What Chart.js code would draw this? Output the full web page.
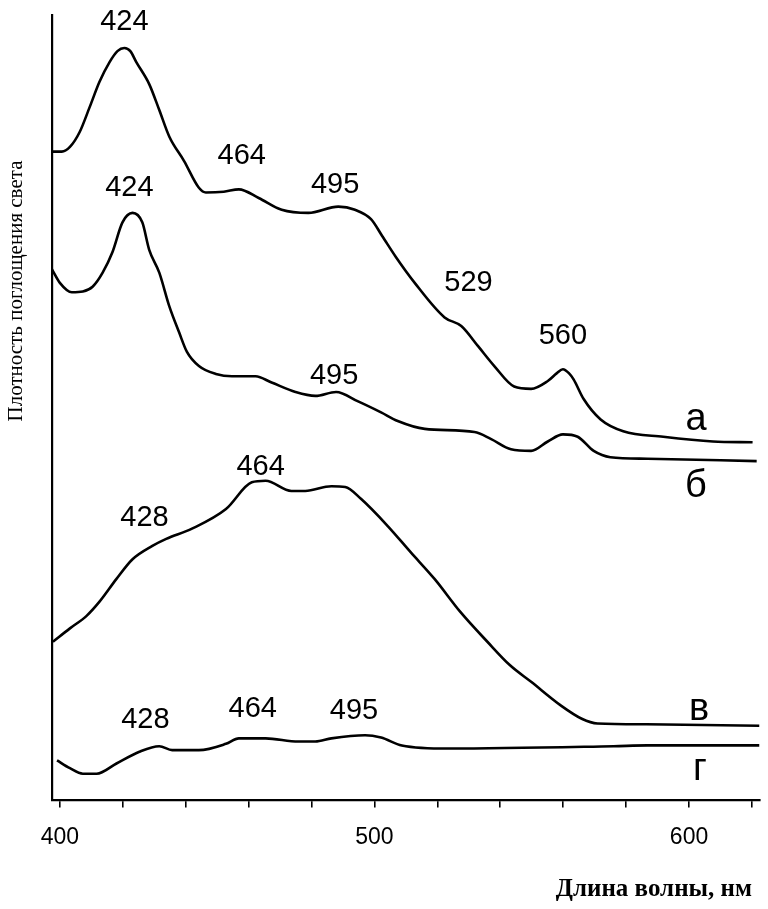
<!DOCTYPE html>
<html>
<head>
<meta charset="utf-8">
<script src="https://cdn.jsdelivr.net/npm/chart.js@4/dist/chart.umd.min.js"></script>
<style>
  html, body { margin: 0; padding: 0; background: #fff; }
  #wrap { width: 768px; height: 909px; position: relative; }
</style>
</head>
<body>
<div id="wrap"><canvas id="spectra"></canvas></div>
<script>
// wavelength, nm / absorbance (arbitrary units, 0..100)
var waveA = [397.8, 400.6, 403.2, 406.3, 409.5, 412.6, 415.8, 418.3, 420.5, 422.4, 424.3, 428.4, 431.6, 434.8, 439.5, 444.2, 446.4, 452.1, 456.9, 463.2, 470.5, 479.0, 488.5, 493.8, 498.9, 502.4, 506.8, 512.8, 522.3, 527.6, 533.0, 538.1, 544.4, 549.8, 555.1, 558.0, 559.9, 561.8, 563.3, 566.5, 571.9, 579.1, 591.8, 607.6, 620.2];
var valA  = [82.6, 82.6, 83.2, 85.1, 88.3, 91.5, 94.0, 95.4, 95.8, 95.4, 94.0, 91.2, 87.9, 84.5, 81.4, 78.0, 77.4, 77.5, 77.8, 76.7, 75.2, 74.8, 75.6, 75.2, 74.0, 71.9, 69.2, 65.9, 61.5, 60.4, 57.8, 55.3, 52.7, 52.4, 53.4, 54.4, 54.9, 54.4, 53.6, 51.1, 48.5, 47.0, 46.3, 45.7, 45.6];

var waveB = [397.5, 400.0, 403.8, 407.3, 410.4, 413.6, 416.7, 419.9, 423.1, 426.2, 428.4, 431.6, 434.8, 437.9, 440.4, 444.2, 449.6, 454.7, 462.2, 467.3, 474.9, 481.2, 487.8, 494.8, 502.1, 507.4, 516.0, 531.8, 537.1, 543.4, 549.8, 555.1, 559.9, 564.6, 569.7, 575.0, 586.7, 621.5];
var valB  = [67.6, 65.9, 64.7, 64.8, 65.4, 67.2, 69.8, 73.6, 74.8, 73.6, 70.1, 67.2, 62.9, 59.6, 57.1, 55.3, 54.3, 54.0, 54.0, 53.2, 52.0, 51.5, 52.0, 50.8, 49.4, 48.3, 47.3, 46.9, 46.0, 44.7, 44.5, 45.7, 46.6, 46.3, 44.5, 43.7, 43.5, 43.2];

var waveV = [397.8, 403.2, 408.5, 412.6, 418.0, 423.1, 429.4, 433.8, 442.0, 452.8, 461.0, 465.4, 473.6, 478.0, 486.3, 490.7, 495.7, 504.3, 511.5, 519.1, 527.3, 535.9, 543.1, 549.8, 559.2, 565.9, 570.9, 586.4, 622.4];
var valV  = [20.2, 21.9, 23.5, 25.3, 28.2, 30.7, 32.4, 33.3, 34.6, 37.1, 40.5, 40.7, 39.4, 39.4, 40.0, 39.9, 38.4, 34.9, 31.6, 28.2, 24.0, 20.2, 17.2, 15.1, 12.1, 10.4, 9.8, 9.7, 9.5];

var waveG = [399.1, 403.2, 407.3, 411.7, 418.0, 425.3, 431.6, 435.7, 444.2, 452.8, 456.9, 465.4, 475.8, 481.2, 486.3, 497.0, 502.1, 508.7, 523.5, 576.0, 586.7, 622.4];
var valG  = [5.1, 4.1, 3.4, 3.4, 4.7, 6.2, 6.9, 6.4, 6.4, 7.2, 7.9, 7.9, 7.5, 7.5, 7.9, 8.3, 8.0, 7.0, 6.6, 6.9, 7.0, 7.0];

var curveNames = ['а', 'б', 'в', 'г'];
var tickLabels = [400, 500, 600];

// peak labels: [text, wavelength, value]
var peakLabels = [
  ['424', 420.5, 99.1], ['464', 457.8, 82.0], ['495', 487.5, 78.4],
  ['529', 529.9, 65.9], ['560', 559.9, 59.1],
  ['424', 422.1, 78.0], ['495', 487.2, 54.0],
  ['428', 426.9, 36.0], ['464', 463.8, 42.4],
  ['428', 427.2, 10.2], ['464', 461.3, 11.6], ['495', 493.5, 11.4]
];
// curve letters: wavelength, value
var nameWave = [602.2, 602.2, 603.2, 603.5];
var nameVal  = [48.5, 40.0, 11.6, 3.9];

function pts(xs, ys) {
  return xs.map(function(x, i) { return {x: x, y: ys[i]}; });
}

function lineSet(label, xs, ys) {
  return {
    label: label,
    data: pts(xs, ys),
    borderColor: '#000',
    borderWidth: 2.6,
    pointRadius: 0,
    cubicInterpolationMode: 'monotone',
    fill: false
  };
}

var textPlugin = {
  id: 'textPlugin',
  afterDatasetsDraw: function(chart) {
    var ctx = chart.ctx, sx = chart.scales.x, sy = chart.scales.y;
    ctx.save();
    ctx.fillStyle = '#000';
    ctx.textAlign = 'center';
    ctx.textBaseline = 'middle';
    ctx.font = '29px "Liberation Sans", Arial, sans-serif';
    peakLabels.forEach(function(p) {
      ctx.fillText(p[0], sx.getPixelForValue(p[1]), sy.getPixelForValue(p[2]));
    });
    ctx.font = '38px "Liberation Sans", Arial, sans-serif';
    curveNames.forEach(function(n, i) {
      ctx.fillText(n, sx.getPixelForValue(nameWave[i]), sy.getPixelForValue(nameVal[i]));
    });
    // axis titles
    ctx.font = 'bold 25px "Liberation Serif", "DejaVu Serif", serif';
    ctx.textAlign = 'right';
    ctx.fillText('Длина волны, нм', 752, 890);
    ctx.translate(16, 291);
    ctx.rotate(-Math.PI / 2);
    ctx.textAlign = 'center';
    ctx.font = '21px "Liberation Serif", "DejaVu Serif", serif';
    ctx.fillText('Плотность поглощения света', 0, 0);
    ctx.restore();
  }
};

new Chart(document.getElementById('spectra'), {
  type: 'line',
  data: {
    datasets: [
      lineSet('а', waveA, valA),
      lineSet('б', waveB, valB),
      lineSet('в', waveV, valV),
      lineSet('г', waveG, valG)
    ]
  },
  options: {
    responsive: true,
    maintainAspectRatio: false,
    animation: false,
    layout: { padding: { left: 52, top: 15, right: 4, bottom: 42 } },
    plugins: { legend: { display: false }, tooltip: { enabled: false } },
    scales: {
      x: {
        type: 'linear',
        min: 397.5,
        max: 622.4,
        afterBuildTicks: function(scale) {
          var t = [];
          for (var v = 400; v <= 620; v += 20) t.push({value: v});
          scale.ticks = t;
        },
        ticks: {
          autoSkip: false,
          maxRotation: 0,
          padding: 16,
          color: '#000',
          font: { family: '"Liberation Sans", Arial, sans-serif', size: 23 },
          callback: function(v) { return tickLabels.indexOf(v) >= 0 ? String(v) : ''; }
        },
        grid: { drawOnChartArea: false, tickLength: 7, color: '#000', lineWidth: 1.6 },
        border: { display: true, color: '#000', width: 2.2 }
      },
      y: {
        min: 0,
        max: 100,
        ticks: { display: false },
        grid: { drawOnChartArea: false, drawTicks: false },
        border: { display: true, color: '#000', width: 2.2 }
      }
    }
  },
  plugins: [textPlugin]
});
</script>
</body>
</html>
